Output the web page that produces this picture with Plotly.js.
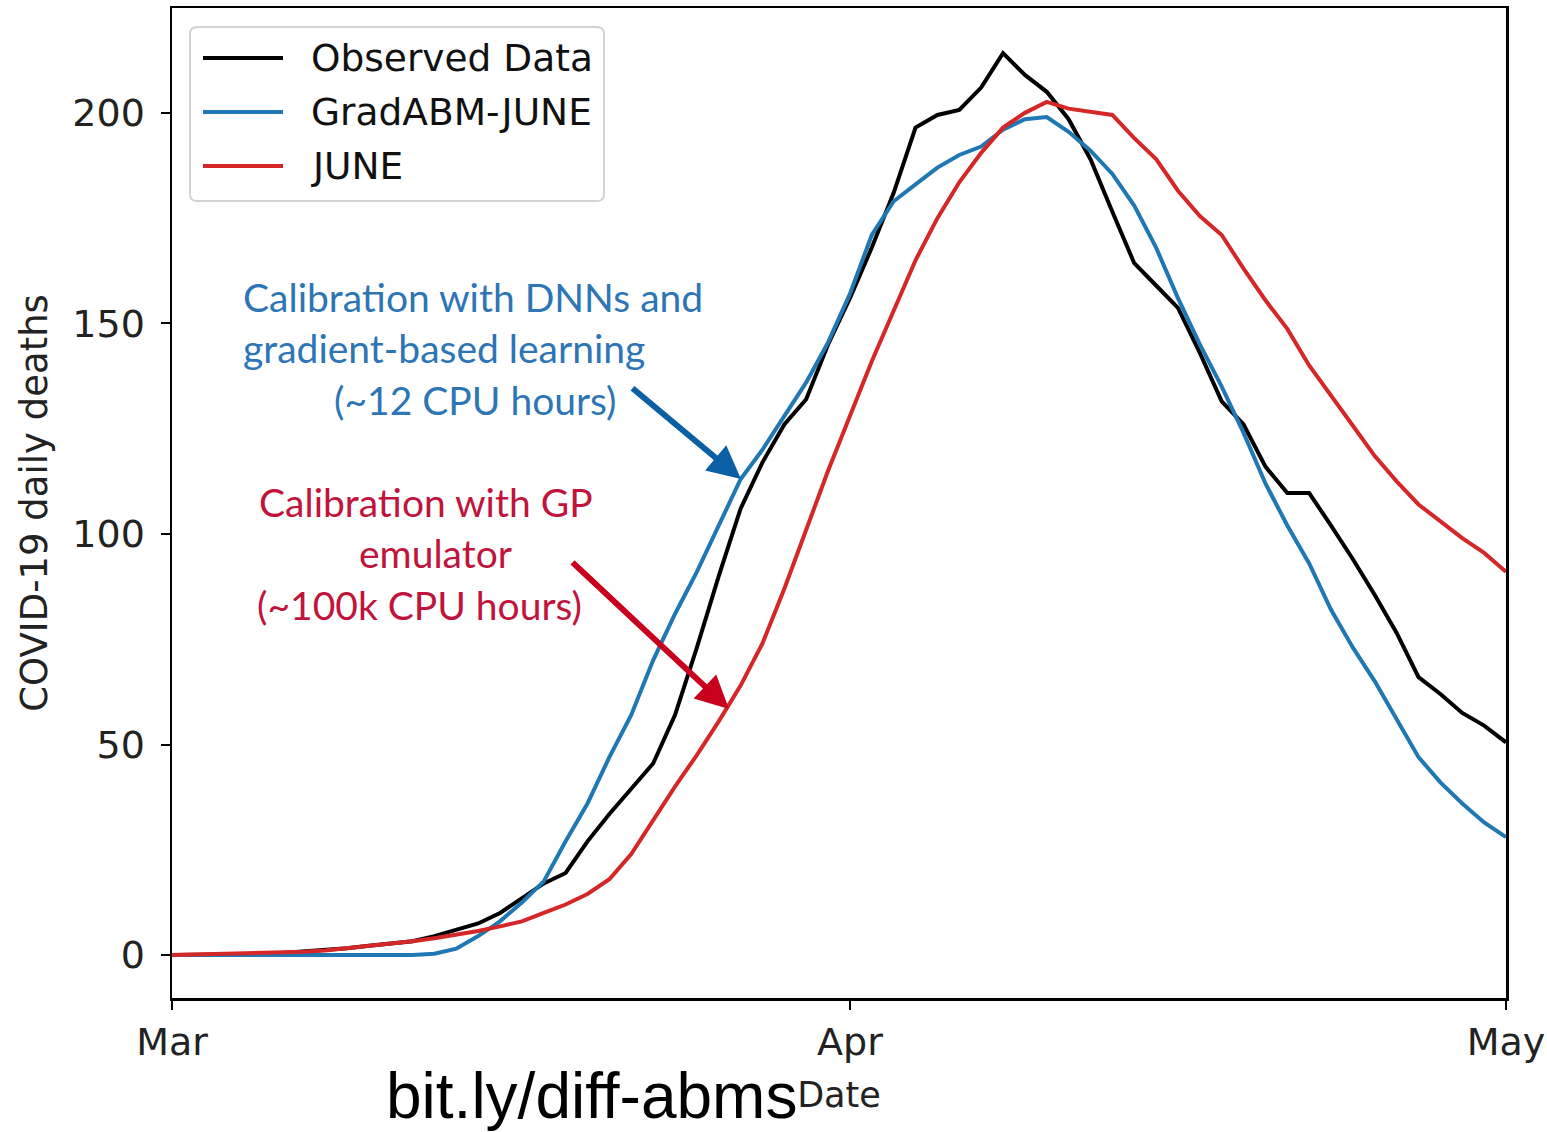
<!DOCTYPE html>
<html>
<head>
<meta charset="utf-8">
<script src="https://cdn.plot.ly/plotly-3.0.1.min.js"></script>
<style>html,body{margin:0;padding:0;background:#fff;}</style>
</head>
<body>
<div id="chart" style="width:1547px;height:1132px;"></div>
<script>
// ---- data ----
const dates = [
  '2020-03-01','2020-03-02','2020-03-03','2020-03-04','2020-03-05','2020-03-06','2020-03-07','2020-03-08',
  '2020-03-09','2020-03-10','2020-03-11','2020-03-12','2020-03-13','2020-03-14','2020-03-15','2020-03-16',
  '2020-03-17','2020-03-18','2020-03-19','2020-03-20','2020-03-21','2020-03-22','2020-03-23','2020-03-24',
  '2020-03-25','2020-03-26','2020-03-27','2020-03-28','2020-03-29','2020-03-30','2020-03-31','2020-04-01',
  '2020-04-02','2020-04-03','2020-04-04','2020-04-05','2020-04-06','2020-04-07','2020-04-08','2020-04-09',
  '2020-04-10','2020-04-11','2020-04-12','2020-04-13','2020-04-14','2020-04-15','2020-04-16','2020-04-17',
  '2020-04-18','2020-04-19','2020-04-20','2020-04-21','2020-04-22','2020-04-23','2020-04-24','2020-04-25',
  '2020-04-26','2020-04-27','2020-04-28','2020-04-29','2020-04-30','2020-05-01'
];
const observed = [
  0, 0, 0, 0, 0.2, 0.5, 0.8, 1.2, 1.6, 2.2, 2.8, 3.3, 4.5, 6, 7.5, 10,
  13.5, 17, 19.5, 27, 33.5, 39.5, 45.5, 57, 73, 90, 106, 117, 126, 132, 145, 156,
  168, 181, 196.5, 199.5, 200.7, 206, 214.2, 209, 205, 198.5, 189, 176.5, 164.3, 159, 153.7, 143,
  131.5, 126, 116, 109.7, 109.7, 102, 94, 85.5, 76.5, 66, 62, 57.5, 54.5, 50.5
];
const gradabm = [
  0, 0, 0, 0, 0, 0, 0, 0, 0, 0, 0, 0, 0.3, 1.5, 4.5, 8,
  12.5, 17.5, 27, 36, 47, 57, 70, 81, 91, 102, 113, 120, 128, 136, 145.5, 157,
  171, 179, 183, 187, 190, 192, 196, 198.5, 199, 195.5, 191, 185.5, 178, 168, 156, 145,
  135, 124, 112, 102, 93, 82, 73, 65, 56, 47, 41, 36, 31.5, 28
];
const june = [
  0, 0.1, 0.2, 0.3, 0.4, 0.6, 0.8, 1.1, 1.6, 2.2, 2.8, 3.3, 4, 4.8, 5.7, 6.8,
  8, 10, 12, 14.5, 18, 24, 32, 40, 47.5, 55.5, 64, 74, 87, 101, 115, 128,
  141, 153, 165, 175, 183.5, 190.5, 196.5, 200, 202.6, 201, 200.3, 199.5, 194, 189, 181.5, 175.5,
  171, 163, 155.5, 148.7, 140, 133, 125.7, 118.5, 112.5, 107, 103, 99, 95.5, 91
];
const seriesNames = ['Observed Data', 'GradABM-JUNE', 'JUNE'];
const seriesColors = ['#000000', '#1f77b4', '#d62728'];
const xTickVals = ['2020-03-01', '2020-04-01', '2020-05-01'];
const xTickText = ['Mar', 'Apr', 'May'];
const yTickVals = [0, 50, 100, 150, 200];

const blueNote = ['Calibration with DNNs and', 'gradient-based learning', '(~12 CPU hours)'];
const redNote = ['Calibration with GP', 'emulator', '(~100k CPU hours)'];

// ---- layout helpers (pixel -> paper) ----
const W = 1547, H = 1132;
const M = {l: 172, r: 41, t: 8, b: 134};
const PW = W - M.l - M.r, PH = H - M.t - M.b;
const px = v => (v - M.l) / PW;
const py = v => (H - M.b - v) / PH;

const tickFont = {family: 'DejaVu Sans', size: 38, color: '#222'};

const traces = [observed, gradabm, june].map((ys, i) => ({
  type: 'scatter', mode: 'lines', x: dates, y: ys, name: seriesNames[i],
  line: {color: seriesColors[i], width: 4}, showlegend: false
}));

const noteFont = (c) => ({family: 'Lato, Carlito, sans-serif', size: 39, color: c});
const blueC = '#2e75b6', redC = '#c0143c';
const annotations = [];
const shapes = [];
const bluePos = [[241, 297], [241, 348], [332, 400]];
const redPos = [[257, 502], [357, 553], [255, 605]];
blueNote.forEach((t, i) => annotations.push({
  xref: 'paper', yref: 'paper', x: px(bluePos[i][0]), y: py(bluePos[i][1]),
  xanchor: 'left', yanchor: 'middle', text: t, showarrow: false, font: noteFont(blueC)
}));
redNote.forEach((t, i) => annotations.push({
  xref: 'paper', yref: 'paper', x: px(redPos[i][0]), y: py(redPos[i][1]),
  xanchor: 'left', yanchor: 'middle', text: t, showarrow: false, font: noteFont(redC)
}));
// arrows
annotations.push({
  xref: 'paper', yref: 'paper', x: px(741), y: py(479), ax: 631 - 741, ay: 387 - 479,
  axref: 'pixel', ayref: 'pixel', text: '', showarrow: true, arrowhead: 2, arrowsize: 1.1,
  arrowwidth: 6, arrowcolor: '#0b5fa5', standoff: 0
});
annotations.push({
  xref: 'paper', yref: 'paper', x: px(729), y: py(709), ax: 571 - 729, ay: 561 - 709,
  axref: 'pixel', ayref: 'pixel', text: '', showarrow: true, arrowhead: 2, arrowsize: 1.1,
  arrowwidth: 6, arrowcolor: '#c8001e', standoff: 0
});
// link text
annotations.push({
  xref: 'paper', yref: 'paper', x: px(384), y: py(1096), xanchor: 'left', yanchor: 'middle',
  text: 'bit.ly/diff-abms', showarrow: false,
  font: {family: 'Liberation Sans, Arial, sans-serif', size: 64, color: '#000'}
});

// ---- legend (drawn as layout shapes + text) ----
const LB = {x0: 190, y0: 27, x1: 604, y1: 201, r: 7};
shapes.push({
  type: 'path', xref: 'paper', yref: 'paper', layer: 'above',
  path: 'M' + px(LB.x0 + LB.r) + ',' + py(LB.y0) +
        ' L' + px(LB.x1 - LB.r) + ',' + py(LB.y0) +
        ' Q' + px(LB.x1) + ',' + py(LB.y0) + ' ' + px(LB.x1) + ',' + py(LB.y0 + LB.r) +
        ' L' + px(LB.x1) + ',' + py(LB.y1 - LB.r) +
        ' Q' + px(LB.x1) + ',' + py(LB.y1) + ' ' + px(LB.x1 - LB.r) + ',' + py(LB.y1) +
        ' L' + px(LB.x0 + LB.r) + ',' + py(LB.y1) +
        ' Q' + px(LB.x0) + ',' + py(LB.y1) + ' ' + px(LB.x0) + ',' + py(LB.y1 - LB.r) +
        ' L' + px(LB.x0) + ',' + py(LB.y0 + LB.r) +
        ' Q' + px(LB.x0) + ',' + py(LB.y0) + ' ' + px(LB.x0 + LB.r) + ',' + py(LB.y0) + ' Z',
  line: {color: '#d4d4d4', width: 2}, fillcolor: 'rgba(255,255,255,0.85)'
});
const legendRows = [58, 112, 166];
seriesNames.forEach((nm, i) => {
  shapes.push({
    type: 'line', xref: 'paper', yref: 'paper', layer: 'above',
    x0: px(203), x1: px(283), y0: py(legendRows[i]), y1: py(legendRows[i]),
    line: {color: seriesColors[i], width: 4}
  });
  annotations.push({
    xref: 'paper', yref: 'paper', x: px(309), y: py(legendRows[i]),
    xanchor: 'left', yanchor: 'middle', text: nm, showarrow: false,
    font: {family: 'DejaVu Sans', size: 37.5, color: '#111'}
  });
});

const layout = {
  width: W, height: H,
  margin: {l: M.l, r: M.r, t: M.t, b: M.b, pad: 0},
  paper_bgcolor: '#fff', plot_bgcolor: '#fff',
  showlegend: false,
  xaxis: {
    type: 'date', range: ['2020-03-01', '2020-05-01'],
    tickmode: 'array', tickvals: xTickVals, ticktext: xTickText,
    ticks: 'outside', ticklen: 9, tickwidth: 2, tickcolor: '#000',
    showline: true, linecolor: '#000', linewidth: 2.5, mirror: true,
    showgrid: false, zeroline: false, tickfont: tickFont,
    title: {text: 'Date', font: {family: 'DejaVu Sans', size: 35, color: '#222'}, standoff: 20}
  },
  yaxis: {
    range: [-10.2, 224.9], tickmode: 'array', tickvals: yTickVals,
    ticks: 'outside', ticklen: 9, tickwidth: 2, tickcolor: '#000',
    showline: true, linecolor: '#000', linewidth: 2.5, mirror: true,
    showgrid: false, zeroline: false, tickfont: tickFont, ticklabelstandoff: 8,
    title: {text: 'COVID-19 daily deaths', font: {family: 'DejaVu Sans', size: 37, color: '#222'}, standoff: 14}
  },
  shapes: shapes,
  annotations: annotations
};

Plotly.newPlot('chart', traces, layout, {displayModeBar: false, staticPlot: true});
</script>
</body>
</html>
